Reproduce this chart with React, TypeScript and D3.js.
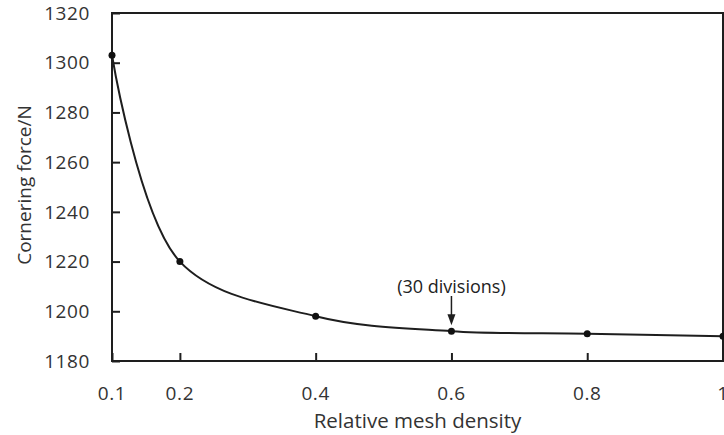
import { useEffect, useRef } from 'react';
import * as d3 from 'd3';

const density = [0.1, 0.2, 0.4, 0.6, 0.8, 1.0];
const force = [1303, 1220, 1198, 1192, 1191, 1190];
const xTicks = [0.1, 0.2, 0.4, 0.6, 0.8, 1];
const yTicks = [1180, 1200, 1220, 1240, 1260, 1280, 1300, 1320];
const noteAt = 0.6;
const noteText = '(30 divisions)';

const App = () => {
    const svgRef = useRef<SVGSVGElement>(null);

    useEffect(() => {
        const svg = d3.select(svgRef.current);
        svg.selectAll('*').remove();

        const left = 112, right = 723, top = 13, bottom = 361;
        const x = d3.scaleLinear().domain([0.1, 1]).range([left, right]);
        const y = d3.scaleLinear().domain([1180, 1320]).range([bottom, top]);
        const font = "'Open Sans', sans-serif";
        const ink = '#1e1e1e';

        // frame
        svg.append('rect').attr('x', left).attr('y', top).attr('width', right - left).attr('height', bottom - top)
            .attr('fill', 'none').attr('stroke', ink).attr('stroke-width', 2);

        // y ticks (inside) + labels
        const yg = svg.append('g').attr('transform', `translate(${left},0)`)
            .call(d3.axisRight(y).tickValues(yTicks).tickSize(8).tickFormat(() => ''));
        yg.select('.domain').remove();
        yg.selectAll('line').attr('stroke', ink).attr('stroke-width', 2);
        svg.selectAll('.ylab').data(yTicks).enter().append('text').attr('class', 'ylab')
            .attr('x', 90).attr('y', (d) => y(d)).attr('dy', '0.35em').attr('text-anchor', 'end')
            .attr('font-family', font).attr('font-size', 19).attr('letter-spacing', 0.6).attr('fill', '#333').text((d) => d);

        // x ticks (inside) + labels
        const xg = svg.append('g').attr('transform', `translate(0,${bottom})`)
            .call(d3.axisTop(x).tickValues(xTicks).tickSize(8).tickFormat(() => ''));
        xg.select('.domain').remove();
        xg.selectAll('line').attr('stroke', ink).attr('stroke-width', 2);
        svg.selectAll('.xlab').data(xTicks).enter().append('text').attr('class', 'xlab')
            .attr('x', (d) => x(d)).attr('y', 393).attr('dy', '0.35em').attr('text-anchor', 'middle')
            .attr('font-family', font).attr('font-size', 19).attr('letter-spacing', 0.6).attr('fill', '#333').text((d) => String(d));

        // axis titles
        svg.append('text').attr('x', (left + right) / 2).attr('y', 421).attr('dy', '0.35em').attr('text-anchor', 'middle')
            .attr('font-family', font).attr('font-size', 20.5).attr('fill', '#333').text('Relative mesh density');
        svg.append('text').attr('transform', `translate(24,${(top + bottom) / 2 - 2}) rotate(-90)`).attr('dy', '0.35em')
            .attr('text-anchor', 'middle').attr('font-family', font).attr('font-size', 19).attr('fill', '#333')
            .text('Cornering force/N');

        // curve
        const line = d3.line<number>().x((d) => x(d)).y((d, i) => y(force[i])).curve(d3.curveCatmullRom.alpha(0.5));
        svg.append('path').datum(density).attr('d', line).attr('fill', 'none').attr('stroke', ink).attr('stroke-width', 2);
        svg.selectAll('.pt').data(density).enter().append('circle').attr('class', 'pt')
            .attr('cx', (d) => x(d)).attr('cy', (d, i) => y(force[i])).attr('r', 3.5).attr('fill', '#111');

        // annotation
        const nx = x(noteAt);
        const ny = y(force[density.indexOf(noteAt)]);
        svg.append('text').attr('x', nx).attr('y', 287).attr('dy', '0.35em').attr('text-anchor', 'middle')
            .attr('font-family', font).attr('font-size', 18).attr('fill', '#222').text(noteText);
        svg.append('line').attr('x1', nx).attr('x2', nx).attr('y1', 296).attr('y2', ny - 14)
            .attr('stroke', ink).attr('stroke-width', 1.5);
        svg.append('path').attr('d', `M${nx - 4},${ny - 17} L${nx + 4},${ny - 17} L${nx},${ny - 6} Z`).attr('fill', ink);
    }, []);

    return <svg ref={svgRef} width={724} height={435} style={{ position: 'absolute', left: 0, top: 0, background: '#fff' }}></svg>;
};

export default App;
